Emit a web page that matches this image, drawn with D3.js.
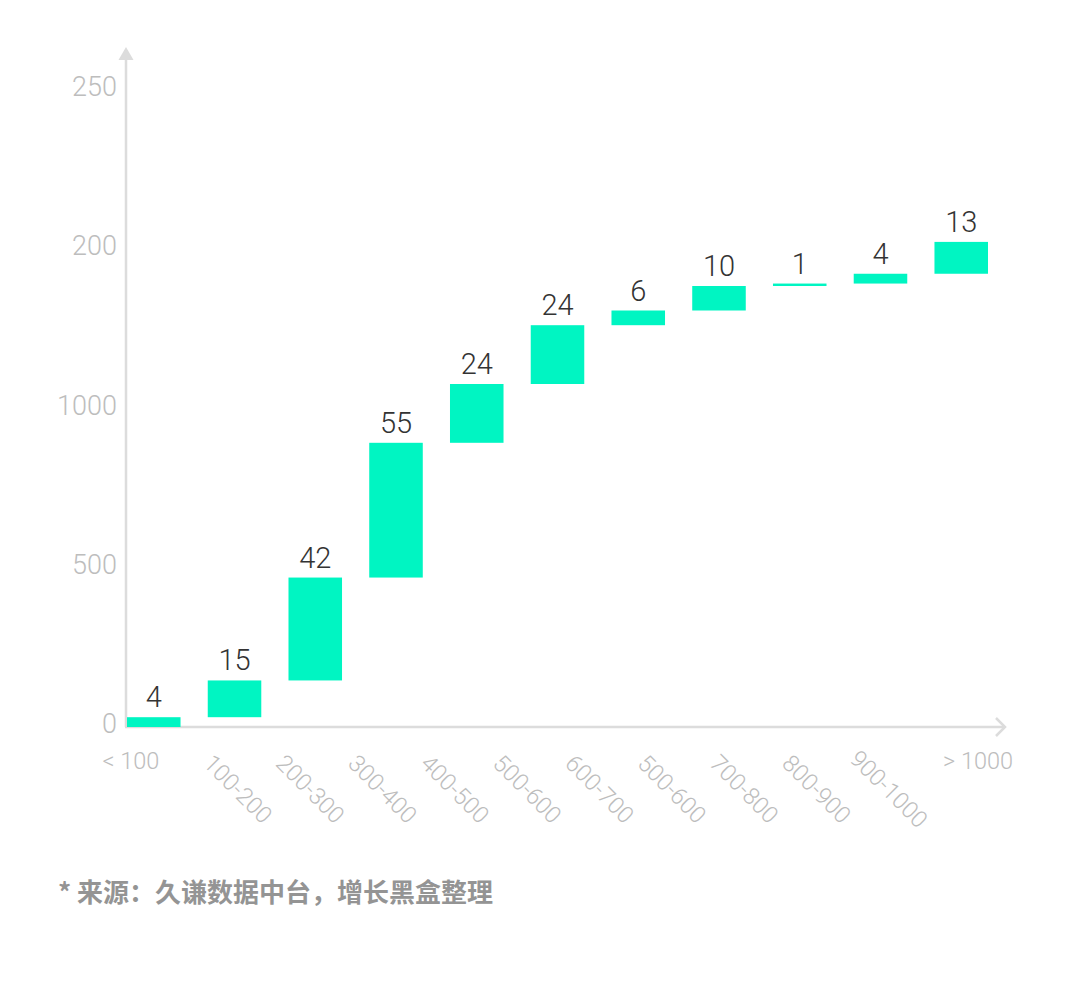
<!DOCTYPE html>
<html>
<head>
<meta charset="utf-8">
<script src="https://cdnjs.cloudflare.com/ajax/libs/d3/7.8.5/d3.min.js"></script>
<style>
  html, body { margin: 0; padding: 0; background: #fff; }
  svg { display: block; }
</style>
</head>
<body>
<svg id="chart"></svg>
<script>
"use strict";

// data
// 12 category labels under 11 bars (the picture really repeats 500-600)
const categories = ["< 100", "100-200", "200-300", "300-400", "400-500", "500-600",
    "600-700", "500-600", "700-800", "800-900", "900-1000", "> 1000"];
const values = [4, 15, 42, 55, 24, 24, 6, 10, 1, 4, 13];
const y_ticks = [0, 65, 130, 195, 260];
const y_tick_labels = ["0", "500", "1000", "200", "250"];
const source_note = "* 来源：久谦数据中台，增长黑盒整理";

const WIDTH = 1080;
const HEIGHT = 996;
const BAR_COLOR = "#00f5c2";
const AXIS_COLOR = "#dcdcdc";
const LIGHT_TEXT = "#bdbdbd";
const FONT = "Roboto, 'Noto Sans', sans-serif";

const svg = d3.select("#chart")
    .attr("width", WIDTH)
    .attr("height", HEIGHT);

// bars are keyed by index since labels repeat
const xScale = d3.scaleBand()
    .domain(d3.range(values.length))
    .range([127, 988])
    .paddingInner(0.337)
    .paddingOuter(0)
    .align(0);

const yScale = d3.scaleLinear()
    .domain([0, 260])
    .range([727, 90]);

// running totals for the floating bars
let running = 0;
const bars = values.map((v, i) => {
    const start = running;
    running += v;
    return { i: i, value: v, start: start, end: running };
});

// y axis: tick labels only, the line is drawn by hand with its arrow
const yAxis = svg.append("g")
    .attr("transform", `translate(126,0)`)
    .call(d3.axisLeft(yScale)
        .tickValues(y_ticks)
        .tickFormat((d, i) => y_tick_labels[i])
        .tickSize(0)
        .tickPadding(9));
yAxis.select(".domain").remove();
yAxis.selectAll("text")
    .attr("font-family", FONT)
    .attr("font-weight", 300)
    .attr("font-size", 27)
    .attr("fill", LIGHT_TEXT)
    .attr("dy", "0.32em")
    .attr("transform", "translate(0,-3)");

const x0 = xScale.range()[0] - 1;
const y0 = yScale(0);
const y_top = yScale.range()[1] - 43;
const x_right = 1005;

svg.append("line")
    .attr("x1", x0).attr("x2", x0)
    .attr("y1", y0).attr("y2", y_top + 10)
    .attr("stroke", AXIS_COLOR)
    .attr("stroke-width", 2.5);
svg.append("path")
    .attr("d", `M${x0},${y_top} L${x0 + 7.5},${y_top + 13} L${x0 - 7.5},${y_top + 13} Z`)
    .attr("fill", AXIS_COLOR);

svg.append("line")
    .attr("x1", x0 - 1).attr("x2", x_right)
    .attr("y1", y0).attr("y2", y0)
    .attr("stroke", AXIS_COLOR)
    .attr("stroke-width", 2.5);
svg.append("path")
    .attr("d", `M${x_right - 9},${y0 - 9} L${x_right},${y0} L${x_right - 9},${y0 + 9}`)
    .attr("fill", "none")
    .attr("stroke", AXIS_COLOR)
    .attr("stroke-width", 2.5);

// bars
svg.append("g")
    .selectAll("rect")
    .data(bars)
    .join("rect")
    .attr("x", d => xScale(d.i))
    .attr("y", d => yScale(d.end))
    .attr("width", xScale.bandwidth())
    .attr("height", d => Math.max(2, yScale(d.start) - yScale(d.end)))
    .attr("fill", BAR_COLOR);

// value labels
svg.append("g")
    .selectAll("text")
    .data(bars)
    .join("text")
    .attr("x", d => xScale(d.i) + xScale.bandwidth() / 2)
    .attr("y", d => yScale(d.end) - 10)
    .attr("text-anchor", "middle")
    .attr("font-family", FONT)
    .attr("font-weight", 300)
    .attr("font-size", 29)
    .attr("fill", "#333")
    .text(d => d.value);

// category labels: the rotated ones sit on their own even spacing
const rotScale = d3.scaleLinear()
    .domain([1, 10])
    .range([238, 889]);

const xlab = svg.append("g")
    .attr("font-family", FONT)
    .attr("font-weight", 300)
    .attr("font-size", 23.5)
    .attr("fill", LIGHT_TEXT);

categories.forEach((lab, i) => {
    if (i === 0 || i === categories.length - 1) {
        const cx = i === 0 ? 131 : 978;
        xlab.append("text")
            .attr("x", cx)
            .attr("y", 761)
            .attr("dy", "0.35em")
            .attr("text-anchor", "middle")
            .text(lab);
    } else {
        xlab.append("text")
            .attr("transform", `translate(${rotScale(i)},789) rotate(45)`)
            .attr("dy", "0.35em")
            .attr("text-anchor", "middle")
            .text(lab);
    }
});

// source note
svg.append("text")
    .attr("x", 58)
    .attr("y", 893)
    .attr("dy", "0.35em")
    .attr("font-family", "'Noto Sans CJK SC', sans-serif")
    .attr("font-weight", 700)
    .attr("font-size", 26)
    .attr("fill", "#949494")
    .text(source_note);
</script>
</body>
</html>
